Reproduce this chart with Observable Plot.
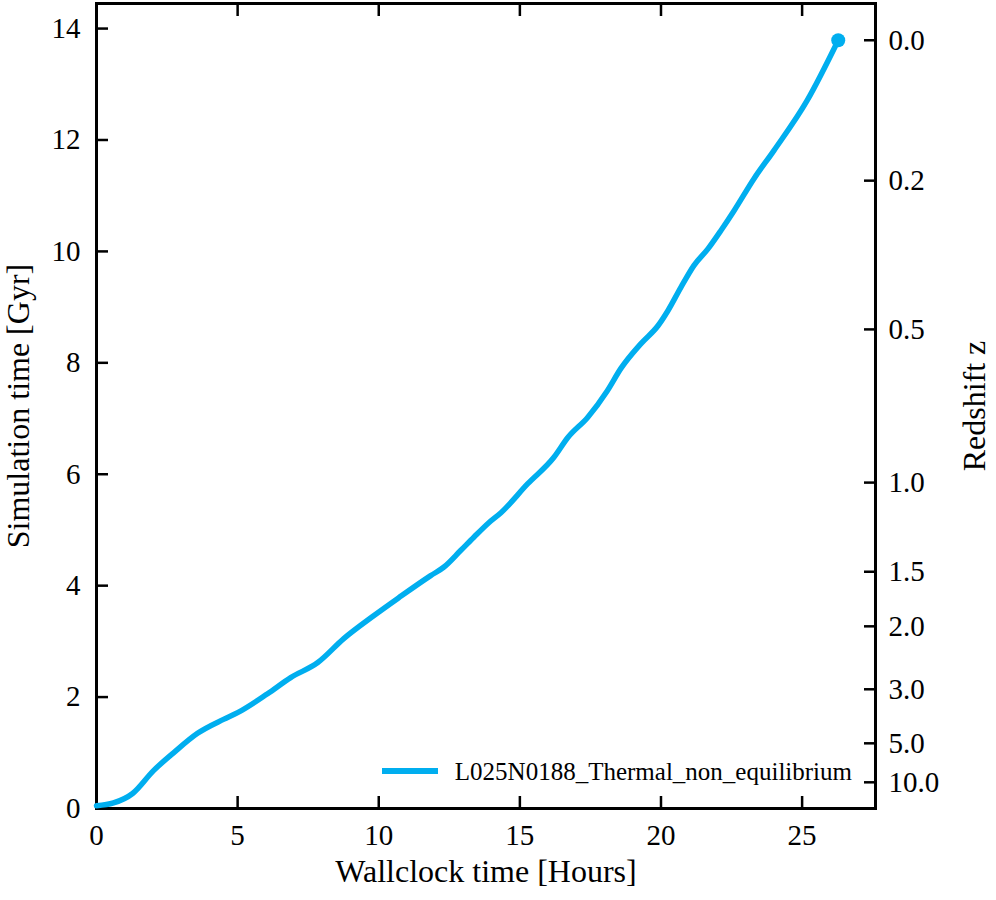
<!DOCTYPE html>
<html>
<head>
<meta charset="utf-8">
<script src="https://cdn.jsdelivr.net/npm/d3@7"></script>
<script src="https://cdn.jsdelivr.net/npm/@observablehq/plot@0.6"></script>
<style>
  html, body { margin: 0; padding: 0; background: white; }
</style>
</head>
<body>
<div id="chart"></div>
<script>
// Wallclock time (hours) vs simulation time (Gyr)
const hours = [0, 0.6, 1.28, 2.02, 2.73, 3.58, 4.5, 5.0, 6.06, 6.88, 7.84, 8.76, 9.82, 10.7, 11.84, 12.3, 12.9, 13.37, 13.9, 14.33, 15.28, 16.2, 16.7, 17.4, 18.1, 18.58, 19.3, 19.9, 20.25, 20.7, 21.17, 21.67, 22.13, 22.6, 23.3, 24.0, 25.18, 26.28];
const gyr   = [0.05, 0.1, 0.27, 0.68, 1.0, 1.35, 1.6, 1.72, 2.06, 2.35, 2.62, 3.05, 3.46, 3.78, 4.18, 4.33, 4.63, 4.87, 5.13, 5.31, 5.83, 6.3, 6.66, 7.02, 7.5, 7.9, 8.35, 8.67, 8.94, 9.35, 9.75, 10.05, 10.38, 10.74, 11.31, 11.81, 12.71, 13.79];

const seriesName = "L025N0188_Thermal_non_equilibrium";

const xTicks = [0, 5, 10, 15, 20, 25];
const yTicks = [0, 2, 4, 6, 8, 10, 12, 14];

// Redshift tick labels and the cosmic age (Gyr) at which they sit
const zLabels = ["0.0", "0.2", "0.5", "1.0", "1.5", "2.0", "3.0", "5.0", "10.0"];
const zAges   = [13.79, 11.27, 8.60, 5.85, 4.25, 3.27, 2.14, 1.17, 0.47];

const xLabel = "Wallclock time [Hours]";
const yLabel = "Simulation time [Gyr]";
const zAxisLabel = "Redshift z";

const color = "#00aeef";

const data = hours.map((h, i) => ({h, t: gyr[i]}));
const zMap = new Map(zAges.map((a, i) => [a, zLabels[i]]));

function legendMark(index, scales, values, dims) {
  const right = dims.width - dims.marginRight;
  const bottom = dims.height - dims.marginBottom;
  const g = d3.create("svg:g");
  g.append("line")
    .attr("x1", right - 493).attr("x2", right - 437)
    .attr("y1", bottom - 37).attr("y2", bottom - 37)
    .attr("stroke", color).attr("stroke-width", 6);
  g.append("text")
    .attr("x", right - 23).attr("y", bottom - 28)
    .attr("text-anchor", "end")
    .attr("font-size", 25)
    .attr("fill", "black")
    .text(seriesName);
  return g.node();
}

const chart = Plot.plot({
  width: 996,
  height: 900,
  marginLeft: 96,
  marginRight: 121,
  marginTop: 3,
  marginBottom: 92,
  x: {domain: [0, 27.6]},
  y: {domain: [0, 14.45]},
  style: {fontFamily: "'Liberation Serif', 'Times New Roman', serif", fontSize: "29px", color: "black", background: "white"},
  marks: [
    Plot.axisX(xTicks, {anchor: "bottom", tickSize: -12, tickPadding: 28, strokeWidth: 2.5, tickFormat: d => String(d), label: null}),
    Plot.axisX(xTicks, {anchor: "top", tickSize: -12, tickFormat: () => "", strokeWidth: 2.5, label: null}),
    Plot.axisY(yTicks, {anchor: "left", tickSize: -12, tickPadding: 28, strokeWidth: 2.5, tickFormat: d => String(d), label: null}),
    Plot.axisY(zAges, {anchor: "right", tickSize: -12, tickPadding: 25, strokeWidth: 2.5, tickFormat: d => zMap.get(d), label: null}),
    Plot.frame({stroke: "black", strokeWidth: 3}),
    Plot.line(data, {x: "h", y: "t", stroke: color, strokeWidth: 5.5, curve: "monotone-x"}),
    Plot.dot(data.slice(-1), {x: "h", y: "t", r: 7, fill: color}),
    Plot.text([xLabel], {text: d => d, frameAnchor: "bottom", dy: 63, fontSize: 32, textAnchor: "middle", lineAnchor: "middle"}),
    Plot.text([yLabel], {text: d => d, frameAnchor: "left", dx: -78, rotate: -90, fontSize: 32, textAnchor: "middle", lineAnchor: "middle"}),
    Plot.text([zAxisLabel], {text: d => d, frameAnchor: "right", dx: 99, rotate: -90, fontSize: 32, textAnchor: "middle", lineAnchor: "middle"}),
    legendMark
  ]
});

document.getElementById("chart").appendChild(chart);
</script>
</body>
</html>
